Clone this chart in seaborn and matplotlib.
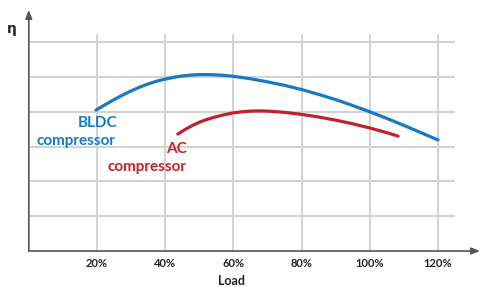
import pandas as pd
import seaborn as sns
import matplotlib
matplotlib.use("Agg")
import matplotlib.pyplot as plt

# --------------------------------------------------------------------------- #
# Data
# --------------------------------------------------------------------------- #
bldc_load = [19.7, 22.5, 25, 27.5, 30, 32.5, 35, 37.5, 40, 42.5, 45, 47.5,
             50, 52.5, 55, 57.5, 60, 65, 70, 75, 80, 85, 90, 95, 100, 105,
             110, 115, 120]
bldc_eff = [4.05, 4.21, 4.35, 4.48, 4.60, 4.71, 4.80, 4.88, 4.94, 4.99, 5.03,
            5.055, 5.07, 5.07, 5.06, 5.045, 5.02, 4.95, 4.86, 4.76, 4.64,
            4.50, 4.35, 4.18, 4.00, 3.81, 3.61, 3.40, 3.19]

ac_load = [43.7, 46, 48, 50, 52.5, 55, 57.5, 60, 62.5, 65, 67.5, 70, 75, 80,
           85, 90, 95, 100, 105, 108.3]
ac_eff = [3.36, 3.50, 3.61, 3.70, 3.79, 3.86, 3.92, 3.97, 4.00, 4.02, 4.025,
          4.02, 3.985, 3.925, 3.85, 3.76, 3.655, 3.535, 3.40, 3.30]

x_ticks = [20, 40, 60, 80, 100, 120]
x_tick_labels = ["20%", "40%", "60%", "80%", "100%", "120%"]
y_grid = [1, 2, 3, 4, 5, 6]

BLUE = "#1879C2"
RED = "#C1212B"
GRID = "#D3D3D3"
AXIS = "#555555"

df = pd.concat([
    pd.DataFrame({"Load": bldc_load, "eff": bldc_eff, "type": "BLDC"}),
    pd.DataFrame({"Load": ac_load, "eff": ac_eff, "type": "AC"}),
])

# --------------------------------------------------------------------------- #
# Figure
# --------------------------------------------------------------------------- #
sns.set_style("white")
plt.rcParams["font.family"] = ["Lato", "DejaVu Sans"]

fig = plt.figure(figsize=(4.81, 2.87), dpi=100)
# axes spans from the y axis (x=29px) to the arrow tip, axis line to arrow top
ax = fig.add_axes([28.8 / 481, 36 / 287, (480 - 28.8) / 481, (251 - 10) / 287])

XMAX = (480 - 28.8) / 3.41
YMAX = 241 / 34.8
ax.set_xlim(0, XMAX)
ax.set_ylim(0, YMAX)

# grid
grid_right = (455 - 28.8) / 3.41
grid_top = (251 - 34) / 34.8
ax.hlines(y_grid, 0, grid_right, color=GRID, lw=1.5, zorder=1)
ax.vlines(x_ticks, 0, grid_top, color=GRID, lw=1.5, zorder=1)

sns.lineplot(data=df, x="Load", y="eff", hue="type",
             palette={"BLDC": BLUE, "AC": RED}, lw=2.3, legend=False,
             sort=False, estimator=None, ax=ax, zorder=3)

# axes with arrows
for s in ax.spines.values():
    s.set_visible(False)
ax.annotate("", xy=(XMAX, 0), xytext=(0, 0), annotation_clip=False,
            arrowprops=dict(arrowstyle="-|>,head_length=0.5,head_width=0.2",
                            color=AXIS, lw=1.2, shrinkA=0, shrinkB=0))
ax.annotate("", xy=(0, YMAX), xytext=(0, 0), annotation_clip=False,
            arrowprops=dict(arrowstyle="-|>,head_length=0.5,head_width=0.2",
                            color=AXIS, lw=1.2, shrinkA=0, shrinkB=0))

ax.set_xticks(x_ticks)
ax.set_xticklabels(x_tick_labels, fontsize=8, fontweight="bold", color="#222222")
ax.tick_params(axis="x", length=0, pad=5)
ax.set_yticks([])
ax.set_xlabel("")
ax.set_ylabel("")

# curve labels
ax.text(25.9, 3.56, "BLDC", color=BLUE, fontsize=11, fontweight="bold",
        ha="right", va="baseline")
ax.text(25.4, 3.05, "compressor", color=BLUE, fontsize=11, fontweight="bold",
        ha="right", va="baseline")
ax.text(46.4, 2.82, "AC", color=RED, fontsize=11, fontweight="bold",
        ha="right", va="baseline")
ax.text(46.1, 2.30, "compressor", color=RED, fontsize=11, fontweight="bold",
        ha="right", va="baseline")

fig.text(12 / 481, 1 - 29 / 287, "η", fontsize=10, fontweight="bold",
         ha="center", va="center", family=["DejaVu Sans"])
fig.text(232 / 481, 1 - 281 / 287, "Load", fontsize=9, fontweight="bold",
         ha="center", va="center", color="#222222")

fig.savefig("out.png", dpi=100, facecolor="white")
